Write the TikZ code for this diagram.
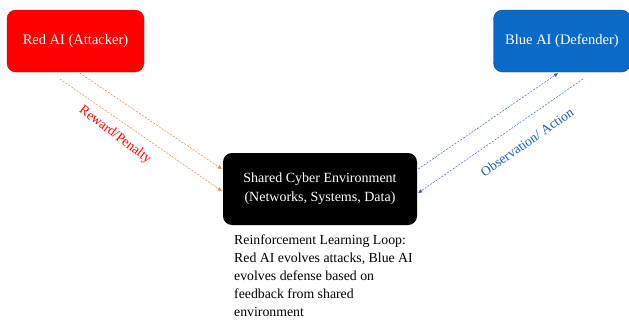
\documentclass[tikz,border=0pt]{standalone}
\usepackage{fontspec}
\setmainfont{Liberation Serif}
\usetikzlibrary{arrows.meta,calc}
\definecolor{attackred}{HTML}{FF0000}
\definecolor{defendblue}{HTML}{0A6AC8}
\definecolor{flowOrange}{HTML}{E8893A}
\definecolor{flowBlue}{HTML}{3F64C0}
\definecolor{labelBlue}{HTML}{1F5BB5}
\begin{document}
\begin{tikzpicture}[x=1pt,y=1pt,
  agent/.style={rectangle, rounded corners=9pt, minimum width=137pt, minimum height=62pt,
    text=white, font=\fontsize{14.5}{17}\selectfont, inner sep=0pt},
  envbox/.style={rectangle, rounded corners=9pt, fill=black, minimum width=194pt, minimum height=72pt,
    text=white, align=center, font=\fontsize{14}{19}\selectfont, inner sep=0pt},
  redflow/.style={draw=flowOrange, line width=0.5pt, dash pattern=on 2pt off 1.4pt,
    -{Triangle[length=4pt,width=3.5pt]}},
  blueflow/.style={draw=flowBlue, line width=0.5pt, dash pattern=on 2pt off 1.4pt,
    -{Triangle[length=4pt,width=3.5pt]}},
  flowlabel/.style={font=\fontsize{13.5}{15}\selectfont, inner sep=0pt}]
  \useasboundingbox (0,0) rectangle (629,325);
  \fill[white] (0,0) rectangle (629,325);

  % agents and the shared environment
  \node[agent, fill=attackred, draw=attackred!70!black, line width=0.4pt] (red) at (75.5,284) {Red AI (Attacker)};
  \node[agent, fill=defendblue, draw=defendblue!70!black, line width=0.4pt] (blue) at (562,284) {Blue AI (Defender)};
  \node[envbox] (env) at (320,136) {Shared Cyber Environment\\(Networks, Systems, Data)};

  % end points of the feedback flows
  \coordinate (rA) at ($(red.south)+(4.5,-1)$);
  \coordinate (rB) at (60,246);
  \coordinate (eA) at ($(env.west)+(-1,20)$);
  \coordinate (eB) at ($(env.west)+(-1,-2)$);
  \coordinate (eC) at ($(env.east)+(1,20)$);
  \coordinate (eD) at ($(env.east)+(1,-4)$);
  \coordinate (bA) at ($(blue.south)+(-4,-1)$);
  \coordinate (bB) at (583,246);

  \draw[redflow] (rA) -- (eA);
  \draw[redflow] (rB) -- (eB);
  \draw[blueflow] (eC) -- (bA);
  \draw[blueflow] (bB) -- (eD);

  % flow labels
  \node[flowlabel, text=attackred, rotate=-37] (rlab) at (115,190) {Reward/Penalty};
  \node[flowlabel, text=labelBlue, rotate=35] (blab) at (527,183) {Observation/ Action};

  % caption of the loop
  \node[anchor=north west, align=left, inner sep=0pt, font=\fontsize{13.8}{18}\selectfont] (loop) at (234,90)
    {Reinforcement Learning Loop:\\Red AI evolves attacks, Blue AI\\evolves defense based on\\feedback from shared\\environment};
\end{tikzpicture}
\end{document}
